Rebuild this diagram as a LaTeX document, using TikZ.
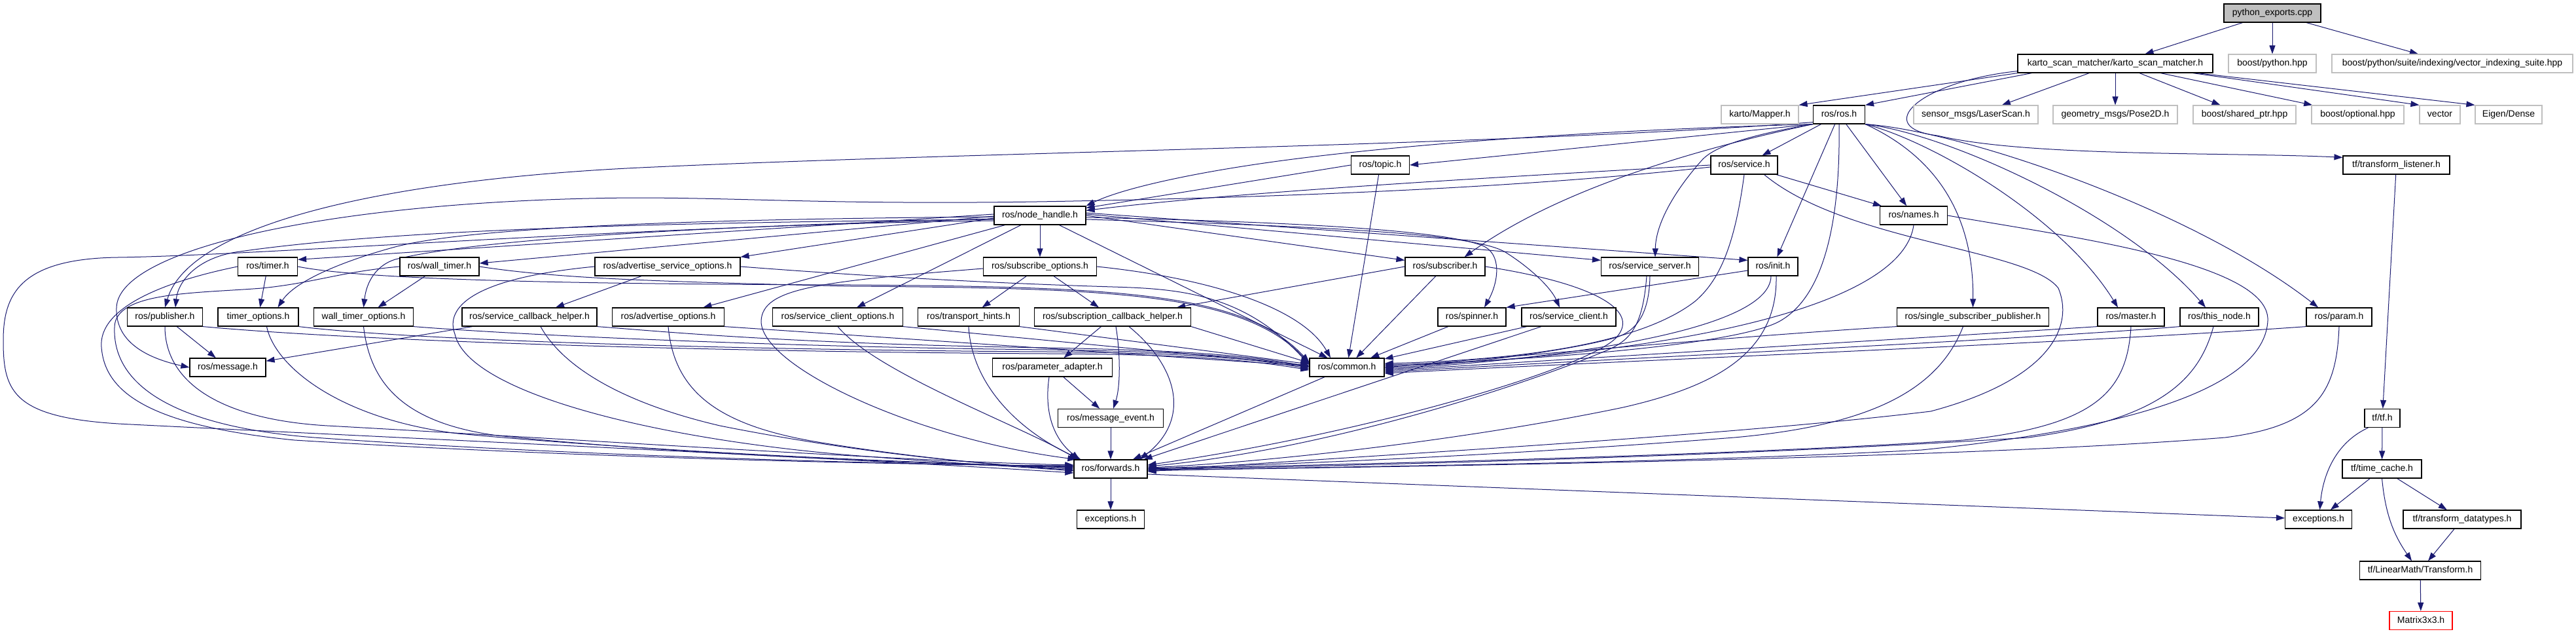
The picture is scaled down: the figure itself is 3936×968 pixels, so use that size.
\documentclass[tikz,border=0pt]{standalone}
\usepackage{fontspec}
\setmainfont{Liberation Sans}
\usetikzlibrary{arrows.meta,backgrounds}
\definecolor{edgec}{RGB}{25,25,112}
\definecolor{grayb}{RGB}{191,191,191}
\begin{document}
\begin{tikzpicture}[x=1pt,y=-1pt,
  nbox/.style={draw=black,line width=1.2pt,fill=white,inner sep=0pt,minimum height=28pt,font=\fontsize{14}{16}\selectfont,text height=10.5pt,text depth=3pt},
  gnbox/.style={nbox,draw=grayb},
  edg/.style={draw=edgec,line width=1.0pt,-{Triangle[length=13pt,width=9pt]}}]
\useasboundingbox (0,0) rectangle (3936,968);
% ---------------- nodes ----------------
\node[nbox,fill=grayb,minimum width=148pt] (py) at (3472,20) {python\_exports.cpp};
\node[nbox,minimum width=298pt] (ksm) at (3232,97) {karto\_scan\_matcher/karto\_scan\_matcher.h};
\node[gnbox,minimum width=134pt] (bpy) at (3472,97) {boost/python.hpp};
\node[gnbox,minimum width=368pt] (vis) at (3747,97) {boost/python/suite/indexing/vector\_indexing\_suite.hpp};
\node[gnbox,minimum width=118pt] (mapper) at (2689,175) {karto/Mapper.h};
\node[nbox,minimum width=79pt] (ros) at (2810,175) {ros/ros.h};
\node[gnbox,minimum width=190pt] (laser) at (3019,175) {sensor\_msgs/LaserScan.h};
\node[gnbox,minimum width=190pt] (pose) at (3232,175) {geometry\_msgs/Pose2D.h};
\node[gnbox,minimum width=157pt] (shp) at (3429.5,175) {boost/shared\_ptr.hpp};
\node[gnbox,minimum width=141pt] (opt) at (3602.5,175) {boost/optional.hpp};
\node[gnbox,minimum width=62pt] (vec) at (3728,175) {vector};
\node[gnbox,minimum width=102pt] (eig) at (3833,175) {Eigen/Dense};
\node[nbox,minimum width=89pt] (topic) at (2109,252) {ros/topic.h};
\node[nbox,minimum width=102pt] (service) at (2665,252) {ros/service.h};
\node[nbox,minimum width=163pt] (tfl) at (3661.5,252) {tf/transform\_listener.h};
\node[nbox,minimum width=140pt] (nh) at (1589,329) {ros/node\_handle.h};
\node[nbox,minimum width=103pt] (names) at (2924,329) {ros/names.h};
\node[nbox,minimum width=91pt] (timer) at (409,407) {ros/timer.h};
\node[nbox,minimum width=121pt] (wtimer) at (671.5,407) {ros/wall\_timer.h};
\node[nbox,minimum width=222pt] (aso) at (1020,407) {ros/advertise\_service\_options.h};
\node[nbox,minimum width=173pt] (so) at (1589,407) {ros/subscribe\_options.h};
\node[nbox,minimum width=122pt] (sub) at (2208,407) {ros/subscriber.h};
\node[nbox,minimum width=149pt] (ss) at (2521,407) {ros/service\_server.h};
\node[nbox,minimum width=76pt] (init) at (2709,407) {ros/init.h};
\node[nbox,minimum width=115pt] (pub) at (252,484) {ros/publisher.h};
\node[nbox,minimum width=123pt] (topt) at (394.5,484) {timer\_options.h};
\node[nbox,minimum width=152pt] (wto) at (555.5,484) {wall\_timer\_options.h};
\node[nbox,minimum width=206pt] (sch) at (809,484) {ros/service\_callback\_helper.h};
\node[nbox,minimum width=171pt] (ao) at (1021,484) {ros/advertise\_options.h};
\node[nbox,minimum width=199pt] (sco) at (1280,484) {ros/service\_client\_options.h};
\node[nbox,minimum width=155pt] (th) at (1480,484) {ros/transport\_hints.h};
\node[nbox,minimum width=239pt] (sbch) at (1700,484) {ros/subscription\_callback\_helper.h};
\node[nbox,minimum width=104pt] (spin) at (2249,484) {ros/spinner.h};
\node[nbox,minimum width=144pt] (sc) at (2397,484) {ros/service\_client.h};
\node[nbox,minimum width=232pt] (ssp) at (3014.5,484) {ros/single\_subscriber\_publisher.h};
\node[nbox,minimum width=102pt] (master) at (3256,484) {ros/master.h};
\node[nbox,minimum width=120pt] (thisn) at (3391,484) {ros/this\_node.h};
\node[nbox,minimum width=100pt] (param) at (3574,484) {ros/param.h};
\node[nbox,minimum width=116pt] (msg) at (348,561) {ros/message.h};
\node[nbox,minimum width=183pt] (pa) at (1608,561) {ros/parameter\_adapter.h};
\node[nbox,minimum width=114pt] (common) at (2058,561) {ros/common.h};
\node[nbox,minimum width=161pt] (me) at (1697,638.5) {ros/message\_event.h};
\node[nbox,minimum width=54pt] (tf) at (3640,638.5) {tf/tf.h};
\node[nbox,minimum width=112pt] (fwd) at (1697,716) {ros/forwards.h};
\node[nbox,minimum width=121pt] (tc) at (3639.5,716) {tf/time\_cache.h};
\node[nbox,minimum width=103pt] (exca) at (1697,793) {exceptions.h};
\node[nbox,minimum width=102pt] (excb) at (3542.5,793) {exceptions.h};
\node[nbox,minimum width=180pt] (tdt) at (3762,793) {tf/transform\_datatypes.h};
\node[nbox,minimum width=185pt] (lmt) at (3698,871) {tf/LinearMath/Transform.h};
\node[nbox,draw=red,minimum width=96pt] (m33) at (3699,947.5) {Matrix3x3.h};
% ---------------- edges ----------------
\begin{pgfonlayer}{background}
\fill[white] (0,0) rectangle (3936,968);
% top
\draw[edg] (py) -- (ksm);
\draw[edg] (py) -- (bpy);
\draw[edg] (py) -- (vis);
\draw[edg] (ksm.south west) -- (mapper.north east);
\draw[edg] ([xshift=22pt]ksm.south west) -- (ros.north east);
\draw[edg] (ksm) -- (laser);
\draw[edg] (ksm) -- (pose);
\draw[edg] (ksm) -- (shp);
\draw[edg] (ksm) -- (opt);
\draw[edg] ([xshift=-31pt]ksm.south east) -- (vec.north west);
\draw[edg] ([xshift=-24pt]ksm.south east) -- (eig.north west);
\draw[edg] ([yshift=3pt]ksm.south west) .. controls (2930,125) and (2860,195) .. (2960,207) .. controls (3100,240) and (3400,232) .. ([yshift=-3pt]tfl.north west);
% ros.h
\draw[edg] (ros.south west) -- (topic.east);
\draw[edg] (ros.south west) .. controls (2400,200) and (2150,222) .. (2000,240) .. controls (1850,258) and (1720,285) .. (nh.north east);
\draw[edg] ([yshift=3pt]ros.south west) .. controls (2300,222) and (1500,232) .. (1000,255) .. controls (600,272) and (290,340) .. (pub.north);
\draw[edg] (ros) -- (service);
\draw[edg] (ros) -- (init);
\draw[edg] (ros) -- (names);
\draw[edg] (ros.south west) .. controls (2650,215) and (2400,275) .. ([xshift=-32pt]sub.north east);
\draw[edg] (ros.south west) .. controls (2680,205) and (2620,222) .. (2600,245) .. controls (2560,290) and (2530,340) .. ([xshift=8pt]ss.north);
\draw[edg] (ros.south) .. controls (2812,330) and (2790,450) .. (2720,490) .. controls (2650,530) and (2300,552) .. ([yshift=4pt]common.east);
\draw[edg] (ros.south east) .. controls (2960,240) and (3016,330) .. (ssp.north);
\draw[edg] (ros.south east) .. controls (2950,215) and (3150,330) .. ([xshift=-20pt]master.north);
\draw[edg] (ros.south east) .. controls (2980,205) and (3250,330) .. ([xshift=-21pt]thisn.north);
\draw[edg] (ros.south east) .. controls (3000,200) and (3350,320) .. ([xshift=-32pt]param.north);
% topic, service, names
\draw[edg] (topic.west) -- ([yshift=-3pt]nh.north east);
\draw[edg] (topic) -- (common);
\draw[edg] (service.west) .. controls (2300,270) and (1900,292) .. ([yshift=-7pt]nh.north east);
\draw[edg] ([yshift=-3pt]service.west) .. controls (2300,290) and (1900,302) .. (1640,307) .. controls (1250,315) and (1100,298) .. (900,303) .. controls (500,312) and (180,380) .. (178,470) .. controls (176,525) and (230,548) .. (msg.west);
\draw[edg] (service) -- (names);
\draw[edg] (service.south) .. controls (2650,380) and (2625,430) .. (2590,460) .. controls (2500,530) and (2300,550) .. ([yshift=6pt]common.east);
\draw[edg] ([xshift=-21pt]service.south east) .. controls (2820,370) and (3100,380) .. (3145,440) .. controls (3170,500) and (3130,580) .. (2950,628) .. controls (2600,670) and (2000,700) .. ([yshift=-4pt]fwd.east);
\draw[edg] (names.south) .. controls (2905,480) and (2500,545) .. ([yshift=2pt]common.east);
\draw[edg] (names.east) .. controls (3150,360) and (3470,400) .. (3465,490) .. controls (3460,580) and (3300,650) .. (2936,687) .. controls (2500,710) and (2000,712) .. ([yshift=-3pt]fwd.east);
% node_handle
\draw[edg] (nh) -- (so);
\draw[edg] ([yshift=2pt]nh.west) -- ([yshift=-4pt]timer.north east);
\draw[edg] ([yshift=-1pt]nh.west) -- ([yshift=5pt]wtimer.east);
\draw[edg] ([yshift=-4pt]nh.west) -- (aso.north east);
\draw[edg] ([yshift=-6pt]nh.west) .. controls (1000,340) and (600,350) .. (360,385) .. controls (300,395) and (272,430) .. ([xshift=16pt]pub.north);
\draw[edg] ([yshift=-2pt]nh.west) .. controls (1000,335) and (700,350) .. (600,378) .. controls (520,400) and (450,430) .. ([xshift=30pt]topt.north);
\draw[edg] ([yshift=-5pt]nh.west) .. controls (1000,348) and (720,368) .. (604,396) .. controls (575,405) and (560,430) .. (wto.north);
\draw[edg] (nh) -- (ao);
\draw[edg] (nh) -- (sco);
\draw[edg] (nh.east) -- ([yshift=-5pt]sub.north west);
\draw[edg] ([yshift=2pt]nh.east) -- ([yshift=-5pt]ss.north west);
\draw[edg] ([yshift=4pt]nh.east) -- ([yshift=-5pt]init.north west);
\draw[edg] ([yshift=-3pt]nh.east) .. controls (1950,338) and (2200,350) .. (2265,375) .. controls (2295,387) and (2290,430) .. ([xshift=19pt]spin.north);
\draw[edg] ([yshift=-6pt]nh.east) .. controls (2000,345) and (2250,355) .. (2300,385) .. controls (2340,410) and (2370,440) .. ([xshift=-14pt]sc.north);
\draw[edg] (nh) -- (common);
\draw[edg] ([yshift=-8pt]nh.west) .. controls (1000,343) and (400,390) .. (180,393) .. controls (30,395) and (5,450) .. (5,520) .. controls (5,600) and (20,640) .. (200,648) .. controls (600,668) and (1300,700) .. ([yshift=-6pt]fwd.west);
% subscribe_options
\draw[edg] (so) -- (th);
\draw[edg] (so) -- (sbch);
\draw[edg] (so.east) .. controls (1850,425) and (1990,470) .. ([xshift=-25pt]common.north);
\draw[edg] ([yshift=-3pt]so.west) .. controls (1250,430) and (1165,440) .. (1163,490) .. controls (1162,560) and (1400,670) .. ([xshift=4pt]fwd.north west);
% timer, wall_timer, advertise_service_options
\draw[edg] (timer) -- (topt);
\draw[edg] (timer.east) .. controls (560,428) and (900,434) .. (1300,435) .. controls (1700,438) and (1900,445) .. ([yshift=8pt]common.west);
\draw[edg] (timer.west) .. controls (250,430) and (150,470) .. (155,530) .. controls (160,600) and (230,650) .. (450,672) .. controls (900,700) and (1400,710) .. ([yshift=5pt]fwd.west);
\draw[edg] (wtimer) -- (wto);
\draw[edg] (wtimer.east) .. controls (850,425) and (1000,430) .. (1300,437) .. controls (1700,440) and (1900,447) .. ([yshift=6pt]common.west);
\draw[edg] (wtimer.west) .. controls (520,415) and (480,432) .. (400,440) .. controls (300,448) and (175,445) .. (175,500) .. controls (172,580) and (250,650) .. (480,668) .. controls (900,698) and (1400,709) .. ([yshift=4pt]fwd.west);
\draw[edg] (aso) -- (sch);
\draw[edg] (aso.east) .. controls (1300,420) and (1500,432) .. (1700,438) .. controls (1800,441) and (1900,447) .. ([yshift=4pt]common.west);
\draw[edg] (aso.west) .. controls (720,425) and (680,470) .. (695,510) .. controls (715,600) and (1000,670) .. (1300,695) .. controls (1450,707) and (1550,712) .. ([yshift=-3pt]fwd.west);
% row 6 -> common / message
\draw[edg] (pub) -- (msg);
\draw[edg] (sch) -- (msg);
\draw[edg] (pub.south east) .. controls (600,525) and (1200,538) .. (1600,540) .. controls (1800,541) and (1900,548) .. ([yshift=-4pt]common.west);
\draw[edg] (topt.south east) .. controls (650,522) and (1200,535) .. (1600,537) .. controls (1800,539) and (1900,545) .. ([yshift=-2pt]common.west);
\draw[edg] (wto.south east) .. controls (800,512) and (1200,530) .. (1600,534) .. controls (1800,537) and (1900,543) .. (common.west);
\draw[edg] (sch.south east) .. controls (1000,505) and (1200,525) .. (1600,531) .. controls (1800,535) and (1900,541) .. ([yshift=1pt]common.west);
\draw[edg] (ao.south east) -- ([yshift=2pt]common.west);
\draw[edg] (sco.south east) -- ([yshift=3pt]common.west);
\draw[edg] (th.south east) -- ([yshift=5pt]common.west);
\draw[edg] (sbch.south east) -- ([yshift=7pt]common.west);
% row 6 -> forwards
\draw[edg] (pub.south) .. controls (252,580) and (330,640) .. (500,650) .. controls (900,672) and (1400,705) .. ([yshift=6pt]fwd.west);
\draw[edg] ([xshift=13pt]topt.south) .. controls (420,560) and (520,640) .. (700,662) .. controls (1000,690) and (1400,707) .. ([yshift=3pt]fwd.west);
\draw[edg] (wto.south) .. controls (565,580) and (610,645) .. (760,665) .. controls (1050,695) and (1400,707) .. ([yshift=2pt]fwd.west);
\draw[edg] ([xshift=17pt]sch.south) .. controls (860,560) and (950,615) .. (1100,650) .. controls (1300,690) and (1500,710) .. (fwd.west);
\draw[edg] (ao.south) .. controls (1030,600) and (1100,650) .. (1250,675) .. controls (1400,700) and (1550,712) .. ([yshift=-2pt]fwd.west);
\draw[edg] (sco.south) .. controls (1340,570) and (1560,650) .. ([xshift=6pt]fwd.north west);
\draw[edg] (th.south) .. controls (1485,590) and (1560,660) .. ([xshift=11pt]fwd.north west);
% subscription callback helper, parameter adapter, message event
\draw[edg] (sbch) -- (pa);
\draw[edg] ([xshift=5pt]sbch.south) .. controls (1712,540) and (1712,590) .. ([xshift=4pt]me.north);
\draw[edg] ([xshift=25pt]sbch.south) .. controls (1800,560) and (1820,640) .. ([xshift=-12pt]fwd.north east);
\draw[edg] (pa) -- (me);
\draw[edg] ([xshift=-5pt]pa.south) .. controls (1595,630) and (1610,670) .. ([xshift=9pt]fwd.north west);
\draw[edg] (me) -- (fwd);
\draw[edg] (common) -- (fwd);
\draw[edg] (fwd) -- (exca);
\draw[edg] ([yshift=-8pt]fwd.east) -- ([yshift=2pt]excb.west);
% right-hand group
\draw[edg] (spin) -- (common);
\draw[edg] (sc) -- (common);
\draw[edg] ([xshift=-42pt]sc.south) -- ([xshift=-6pt]fwd.north east);
\draw[edg] (sub.west) -- ([xshift=-22pt]sbch.north east);
\draw[edg] (sub) -- (common);
\draw[edg] (sub.east) .. controls (2420,430) and (2510,470) .. (2470,515) .. controls (2430,560) and (2100,660) .. ([yshift=6pt]fwd.east);
\draw[edg] (ss.south) .. controls (2520,480) and (2500,505) .. (2470,515) .. controls (2400,535) and (2250,555) .. ([yshift=-1pt]common.east);
\draw[edg] ([xshift=-5pt]ss.south) .. controls (2510,500) and (2490,520) .. (2455,535) .. controls (2300,600) and (2000,690) .. ([yshift=4pt]fwd.east);
\draw[edg] ([yshift=-6pt]init.west) -- (spin.north east);
\draw[edg] ([xshift=-3pt]init.south) .. controls (2705,510) and (2350,550) .. ([yshift=-3pt]common.east);
\draw[edg] ([xshift=5pt]init.south) .. controls (2716,540) and (2620,590) .. (2480,622) .. controls (2250,670) and (1950,705) .. ([yshift=2pt]fwd.east);
\draw[edg] (ssp.south west) .. controls (2700,510) and (2300,545) .. (common.east);
\draw[edg] ([xshift=-15pt]ssp.south) .. controls (2960,600) and (2850,650) .. (2650,668) .. controls (2300,695) and (2000,708) .. ([yshift=1pt]fwd.east);
\draw[edg] (master.south west) .. controls (3000,512) and (2500,542) .. ([yshift=-5pt]common.east);
\draw[edg] (master.south) .. controls (3250,600) and (3200,650) .. (3000,672) .. controls (2600,698) and (2000,710) .. (fwd.east);
\draw[edg] (thisn.south west) .. controls (3100,518) and (2500,546) .. ([yshift=-7pt]common.east);
\draw[edg] ([xshift=-9pt]thisn.south) .. controls (3360,580) and (3300,640) .. (3100,668) .. controls (2600,700) and (2000,712) .. ([yshift=-1pt]fwd.east);
\draw[edg] (param.south west) .. controls (3200,522) and (2500,550) .. ([yshift=-9pt]common.east);
\draw[edg] (param.south) .. controls (3570,600) and (3540,650) .. (3400,668) .. controls (3000,700) and (2200,712) .. ([yshift=-2pt]fwd.east);
% tf chain
\draw[edg] (tfl) -- (tf);
\draw[edg] (tf) -- (tc);
\draw[edg] ([xshift=6pt]tf.south west) .. controls (3560,680) and (3548,740) .. ([xshift=2pt]excb.north);
\draw[edg] (tc) -- (excb);
\draw[edg] (tc) -- (tdt);
\draw[edg] (tc.south) .. controls (3645,790) and (3660,820) .. ([xshift=-13pt]lmt.north);
\draw[edg] (tdt) -- (lmt);
\draw[edg] (lmt) -- (m33);
\end{pgfonlayer}
\end{tikzpicture}
\end{document}
